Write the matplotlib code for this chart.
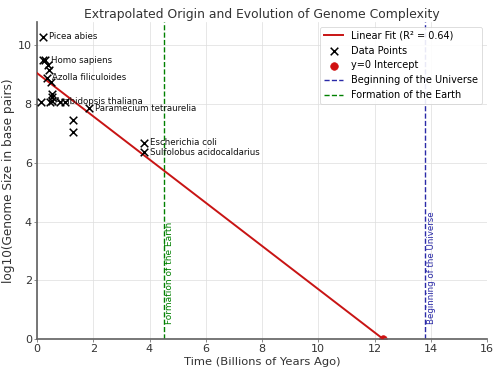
import numpy as np
import matplotlib.pyplot as plt

# genome data (time in billions of years ago, log10 genome size)
time_bya = [0.22, 0.20, 0.30, 0.40, 0.44, 0.35, 0.50, 0.55, 0.55, 0.13,
            0.45, 0.52, 0.80, 1.00, 1.86, 1.29, 1.29, 3.82, 3.82]
log_size = [10.30, 9.49, 9.49, 9.32, 9.15, 8.90, 8.75, 8.35, 8.24, 8.08,
            8.08, 8.10, 8.08, 8.08, 7.87, 7.47, 7.07, 6.68, 6.37]
names = ['Picea abies', '', 'Homo sapiens', '', '', 'Azolla filiculoides', '', '', '', '',
         'Arabidopsis thaliana', '', '', '', 'Paramecium tetraurelia', '', '',
         'Escherichia coli', 'Sulfolobus acidocaldarius']

fit_slope = -0.736
fit_intercept = 9.06
r_squared = 0.64
earth_age = 4.5
universe_age = 13.8

x_zero = -fit_intercept / fit_slope

fig, ax = plt.subplots(figsize=(10, 7.46), dpi=50)
fig.subplots_adjust(left=0.074, right=0.974, top=0.941, bottom=0.091)

x_line = np.linspace(0, x_zero, 100)
ax.plot(x_line, fit_slope * x_line + fit_intercept, color='#c81414', lw=2.8,
        label=f'Linear Fit (R² = {r_squared:.2f})', zorder=3)
ax.scatter(time_bya, log_size, marker='x', color='black', s=120, lw=2.2,
           label='Data Points', zorder=4)
ax.scatter([x_zero], [0], color='#d01010', s=120, label='y=0 Intercept', zorder=2)

for x, y, n in zip(time_bya, log_size, names):
    if n:
        ax.text(x + 0.2, y, n, fontsize=12.5, va='center', color='#111111')

ax.axvline(universe_age, color='#2a2aa8', ls='--', lw=2, label='Beginning of the Universe')
ax.axvline(earth_age, color='green', ls='--', lw=2, label='Formation of the Earth')
ax.text(universe_age + 0.05, 0.5, 'Beginning of the Universe', rotation=90,
        color='#2a2aa8', fontsize=12.5, va='bottom', ha='left')
ax.text(earth_age + 0.05, 0.5, 'Formation of the Earth', rotation=90,
        color='green', fontsize=13, va='bottom', ha='left')

ax.set_xlim(0, 16)
ax.set_ylim(0, 10.8)
ax.set_title('Extrapolated Origin and Evolution of Genome Complexity', fontsize=17.8, color='#333333')
ax.set_xlabel('Time (Billions of Years Ago)', fontsize=16.5, color='#333333')
ax.set_ylabel('log10(Genome Size in base pairs)', fontsize=17.5, color='#333333')
ax.tick_params(labelsize=16, colors='#333333', length=4)
ax.grid(True, color='#dddddd', lw=1)
ax.set_axisbelow(True)
for s in ['top', 'right']:
    ax.spines[s].set_visible(False)
for s in ['left', 'bottom']:
    ax.spines[s].set_color('#666666')
    ax.spines[s].set_linewidth(2.5)

ax.legend(loc='upper right', fontsize=14, framealpha=0.9)

fig.savefig('out.png', dpi=50)
